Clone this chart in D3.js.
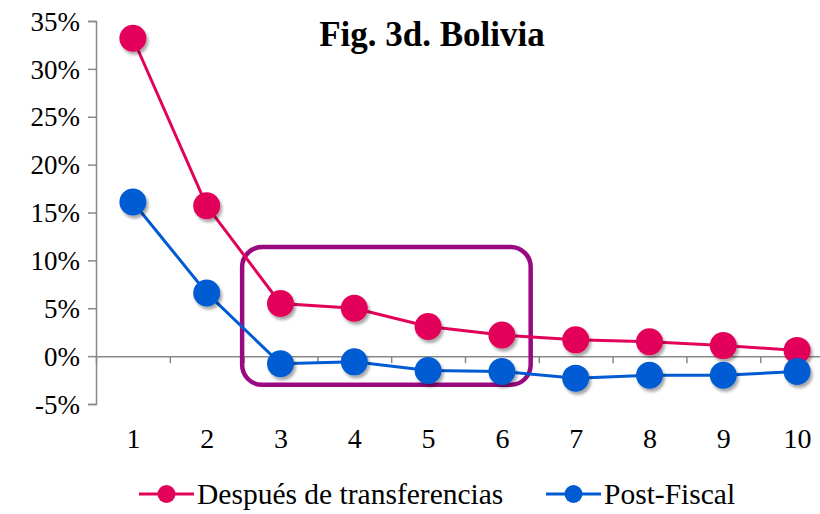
<!DOCTYPE html>
<html>
<head>
<meta charset="utf-8">
<script src="https://cdn.jsdelivr.net/npm/d3@7"></script>
<style>
  body { margin: 0; background: #fff; }
</style>
</head>
<body>
<svg id="chart" width="820" height="514"></svg>
<script>
// chart data
const deciles = [1, 2, 3, 4, 5, 6, 7, 8, 9, 10];
const despues = [33.2, 15.7, 5.5, 5.0, 3.1, 2.2, 1.7, 1.5, 1.1, 0.6];
const postFiscal = [16.1, 6.6, -0.8, -0.6, -1.5, -1.6, -2.3, -2.0, -2.0, -1.6];
const yTicks = [-5, 0, 5, 10, 15, 20, 25, 30, 35];
const seriesNames = ["Después de transferencias", "Post-Fiscal"];
const seriesColors = ["#e3025a", "#005bd2"];
const title = "Fig. 3d. Bolivia";
// highlighted deciles (3 to 6) box, in data units
const boxDeciles = [2.48, 6.39];
const boxValues = [11.4, -3.0];

const serif = "'Liberation Serif', 'DejaVu Serif', 'Times New Roman', serif";

// set the dimensions
let plotLeft = 96,
    plotTop = 21,
    plotBottom = 404,
    band = 73.8;

let svg = d3.select("#chart");

let defs = svg.append("defs");
defs.append("filter")
    .attr("id", "shadow")
    .attr("x", "-50%").attr("y", "-50%")
    .attr("width", "200%").attr("height", "200%")
    .append("feDropShadow")
    .attr("dx", 2).attr("dy", 3)
    .attr("stdDeviation", 1.6)
    .attr("flood-color", "#000")
    .attr("flood-opacity", 0.35);

let x = d3.scaleLinear()
          .domain([0.5, 10.5])
          .range([plotLeft, plotLeft + band * 10]);

let y = d3.scaleLinear()
          .domain([-5, 35])
          .range([plotBottom, plotTop]);

// Y axis
let yAxis = svg.append("g")
    .attr("transform", "translate(" + plotLeft + ",0)")
    .call(d3.axisLeft(y).tickValues(yTicks).tickSize(8).tickPadding(8)
            .tickFormat(d => d + "%"));
yAxis.selectAll("text").style("font-size", "27px").attr("dy", "0.34em");
yAxis.select(".domain").attr("stroke", "#888").attr("stroke-width", 1.5);
yAxis.selectAll(".tick line").attr("stroke", "#888").attr("stroke-width", 1.5);

// X axis line at zero with ticks between deciles
let xAxis = svg.append("g")
    .attr("transform", "translate(0," + y(0) + ")")
    .call(d3.axisBottom(x).tickValues(d3.range(0.5, 11, 1)).tickSize(7)
            .tickSizeOuter(0).tickFormat(""));
xAxis.select(".domain").attr("stroke", "#888").attr("stroke-width", 1.5);
xAxis.selectAll(".tick line").attr("stroke", "#888").attr("stroke-width", 1.5);

// X labels at the bottom
let xLabels = svg.append("g")
    .attr("transform", "translate(0," + plotBottom + ")")
    .call(d3.axisBottom(x).tickValues(deciles).tickSize(0).tickPadding(24));
xLabels.select(".domain").remove();
xLabels.selectAll("text").style("font-size", "28px");

// highlight box
svg.append("rect")
    .attr("x", x(boxDeciles[0]))
    .attr("y", y(boxValues[0]))
    .attr("width", x(boxDeciles[1]) - x(boxDeciles[0]))
    .attr("height", y(boxValues[1]) - y(boxValues[0]))
    .attr("rx", 20).attr("ry", 20)
    .attr("fill", "none")
    .attr("stroke", "#990a80")
    .attr("stroke-width", 4.5);

// lines and markers
[despues, postFiscal].forEach(function(values, i) {
  let pts = deciles.map((d, j) => ({d: d, v: values[j]}));
  svg.append("path")
      .datum(pts)
      .attr("fill", "none")
      .attr("stroke", seriesColors[i])
      .attr("stroke-width", 3)
      .attr("d", d3.line().x(p => x(p.d)).y(p => y(p.v)));
  svg.append("g")
      .selectAll("circle")
      .data(pts)
      .join("circle")
      .attr("cx", p => x(p.d))
      .attr("cy", p => y(p.v))
      .attr("r", 13.5)
      .attr("fill", seriesColors[i])
      .attr("filter", "url(#shadow)");
});

// title
svg.append("text")
    .attr("x", 432)
    .attr("y", 46)
    .attr("text-anchor", "middle")
    .style("font-size", "35px")
    .style("font-weight", "bold")
    .text(title);

// legend
let legendX = [139, 546];
seriesNames.forEach(function(name, i) {
  let g = svg.append("g").attr("transform", "translate(" + legendX[i] + ",494)");
  g.append("line")
      .attr("x1", 0).attr("x2", 55)
      .attr("stroke", seriesColors[i])
      .attr("stroke-width", 3);
  g.append("circle")
      .attr("cx", 27.5).attr("r", 9)
      .attr("fill", seriesColors[i]);
  g.append("text")
      .attr("x", 58)
      .attr("y", 10)
      .style("font-size", "29.5px")
      .text(name);
});

// all text in a serif face
svg.selectAll("text").style("font-family", serif).attr("fill", "#000");
</script>
</body>
</html>
